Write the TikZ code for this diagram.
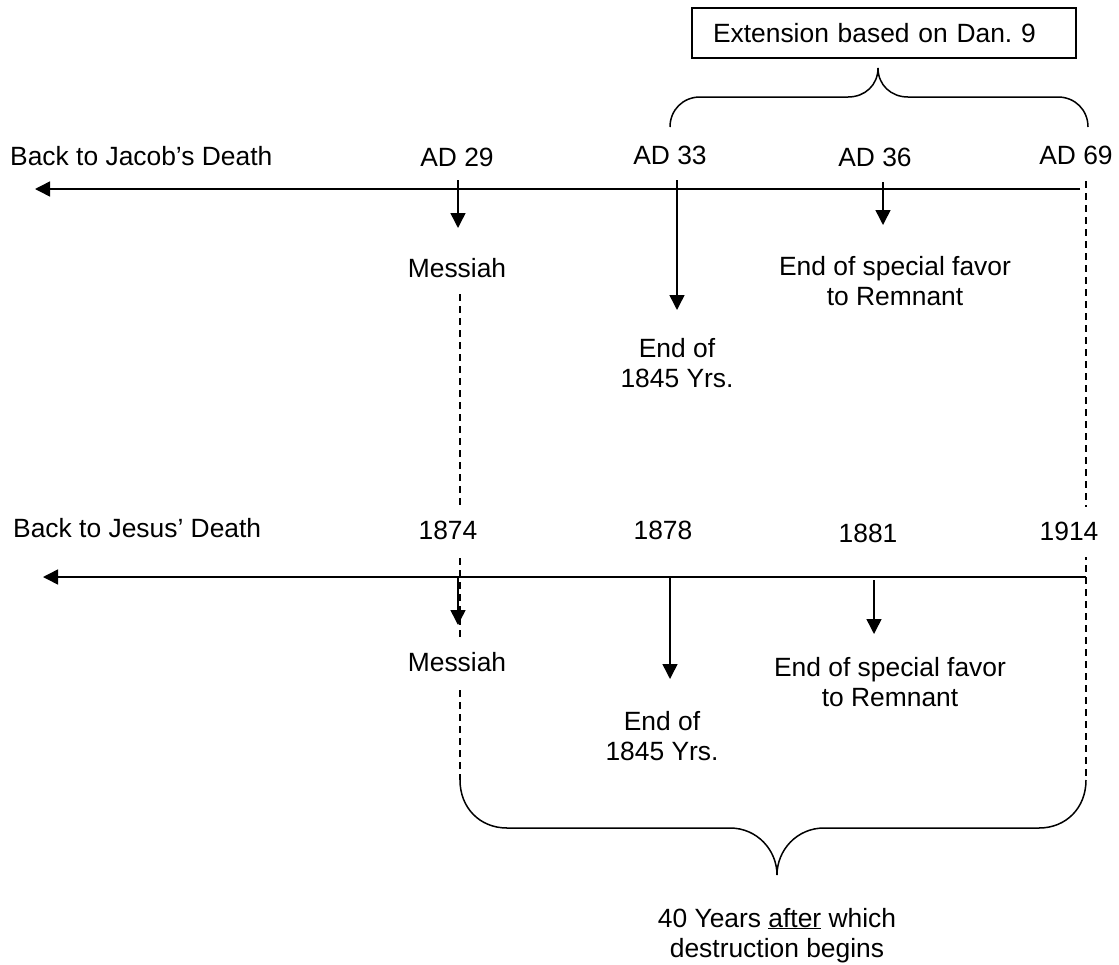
\documentclass[tikz,border=0pt]{standalone}
\usepackage{fontspec}
\setmainfont{Liberation Sans}
\usetikzlibrary{arrows.meta,backgrounds}
\frenchspacing
\begin{document}
\begin{tikzpicture}[x=1pt,y=-1pt,
  lbl/.style={font=\fontsize{26.4}{30}\selectfont\frenchspacing, inner sep=0pt, anchor=base},
  cover/.style={lbl, fill=white, text height=19pt, text depth=3pt, inner ysep=14pt, inner xsep=2pt},
  multi/.style={lbl, align=center},
  solidline/.style={line width=1.5pt},
  arr/.style={line width=1.5pt, -{Triangle[length=15pt,width=15pt]}},
  dashline/.style={line width=1.3pt, dash pattern=on 7pt off 5pt}
]
\useasboundingbox (0,0) rectangle (1119,964);

% ---------- upper timeline ----------
\node[draw, line width=1.3pt, lbl, anchor=center, minimum width=384pt, minimum height=50pt,
      text width=342pt, align=left, inner xsep=21pt] (ext) at (884,33) {Extension based on Dan. 9};
\coordinate (tbL) at (670,127);
\coordinate (tbR) at (1088,127);
\coordinate (tbT) at (878,68);
\draw[solidline] (tbL) .. controls (670,110) and (683,97) .. (700,97) -- (848,97)
  .. controls (865,97) and (878,85) .. (tbT)
  .. controls (878,85) and (891,97) .. (908,97) -- (1058,97)
  .. controls (1075,97) and (1088,110) .. (tbR);

\node[lbl, anchor=base west] (jacob) at (10,165) {Back to Jacob’s Death};
\node[lbl] (ad29) at (457,166) {AD 29};
\node[lbl] (ad33) at (670,164) {AD 33};
\node[lbl] (ad36) at (875,166) {AD 36};
\node[cover] (ad69) at (1076,164) {AD 69};

\coordinate (t1R) at (1080,189);
\coordinate (t1L) at (35,189);
\draw[arr] (t1R) -- (t1L);

\coordinate (a29s) at (458,180); \coordinate (a29e) at (458,228);
\coordinate (a33s) at (677,180); \coordinate (a33e) at (677,310);
\coordinate (a36s) at (883,182); \coordinate (a36e) at (883,225);
\draw[arr] (a29s) -- (a29e);
\draw[arr] (a33s) -- (a33e);
\draw[arr] (a36s) -- (a36e);

\node[cover] (mes1) at (457,277) {Messiah};
\node[multi] (e1) at (677,387) {End of\\1845 Yrs.};
\node[multi] (f1) at (895,305) {End of special favor\\to Remnant};

% ---------- lower timeline ----------
\node[lbl, anchor=base west] (jesus) at (13,537) {Back to Jesus’ Death};
\node[cover] (y1874) at (448,539) {1874};
\node[lbl] (y1878) at (663,539) {1878};
\node[lbl] (y1881) at (868,542) {1881};
\node[cover] (y1914) at (1069,540) {1914};

\coordinate (t2R) at (1086,577);
\coordinate (t2L) at (43,577);
\draw[arr] (t2R) -- (t2L);

\coordinate (b74s) at (458,577); \coordinate (b74e) at (458,625);
\coordinate (b78s) at (670,577); \coordinate (b78e) at (670,679);
\coordinate (b81s) at (874,580); \coordinate (b81e) at (874,634);
\draw[arr] (b74s) -- (b74e);
\draw[arr] (b78s) -- (b78e);
\draw[arr] (b81s) -- (b81e);

\node[cover] (mes2) at (457,671) {Messiah};
\node[multi] (e2) at (662,760) {End of\\1845 Yrs.};
\node[multi] (f2) at (890,706) {End of special favor\\to Remnant};

% ---------- lower brace ----------
\coordinate (bL) at (460,780);
\coordinate (bR) at (1086,780);
\coordinate (bT) at (777,875);
\draw[solidline] (bL) .. controls (460,808) and (480,828) .. (507,828) -- (730,828)
  .. controls (757,828) and (777,850) .. (bT)
  .. controls (777,850) and (797,828) .. (824,828) -- (1039,828)
  .. controls (1066,828) and (1086,808) .. (bR);

\node[multi] (forty) at (777,957) {40 Years \underline{after} which\\destruction begins};

% ---------- dashed guides ----------
\begin{scope}[on background layer]
\draw[dashline] (mes1.south -| bL) -- (bL);
\draw[dashline] (ad69.south -| bR) -- (bR);
\end{scope}
\end{tikzpicture}
\end{document}
